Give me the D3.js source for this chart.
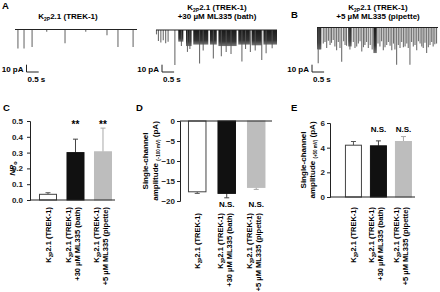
<!DOCTYPE html>
<html>
<head>
<meta charset="utf-8">
<script src="https://cdn.jsdelivr.net/npm/d3@7"></script>
<style>
body { margin: 0; background: #fff; }
svg { display: block; font-family: "Liberation Sans", Arial, sans-serif; font-weight: bold; }
</style>
</head>
<body>
<svg id="fig" width="440" height="292"></svg>
<script>
// ---- data ----
var groupLines = [
    [""],
    ["", "+30 \u00b5M ML335 (bath)"],
    ["", "+5 \u00b5M ML335 (pipette)"]
];  // "" = the K2P2.1 (TREK-1) line (drawn with subscript)

var npoMean = [0.036, 0.30, 0.305];
var npoErr = [0.010, 0.085, 0.15];
var npoSig = ["", "**", "**"];
var npoTicks = [0, 0.1, 0.2, 0.3, 0.4, 0.5];

var ampNegMean = [-17.7, -18.1, -16.6];
var ampNegErr = [0.4, 1.1, 0.5];
var ampNegSig = ["", "N.S.", "N.S."];
var ampNegTicks = [0, -5, -10, -15, -20];

var ampPosMean = [4.2, 4.15, 4.5];
var ampPosErr = [0.3, 0.4, 0.4];
var ampPosSig = ["", "N.S.", "N.S."];
var ampPosTicks = [0, 2, 4, 6];

// single channel traces: spikes [time s, amplitude pA], bursts [t0, t1, amplitude pA]
var ctrlSpikes = [[0.12, 26], [0.37, 26], [0.70, 24], [1.3, 3], [2.05, 19], [2.9, 3], [3.77, 8], [4.22, 24], [4.84, 24]];
var ctrlBursts = [];

var bathSpikes = [[0.02, 6], [0.1, 15], [0.2, 17], [0.3, 14], [0.4, 18], [0.5, 16], [0.78, 48], [1.05, 22],
    [1.3, 30], [1.4, 26], [1.8, 46], [1.95, 28], [2.37, 39], [2.7, 36], [2.9, 30], [3.1, 33],
    [3.55, 43], [3.7, 26], [3.9, 30], [4.1, 28], [4.37, 41], [4.55, 32], [4.8, 25]];
var bathBursts = [[0.92, 1.13, 16], [1.24, 1.47, 22], [1.54, 2.16, 20], [2.23, 2.51, 20],
    [2.58, 3.33, 22], [3.40, 3.88, 20], [3.95, 4.37, 21], [4.44, 5.0, 20]];

var pipSpikes = [[0.05, 49], [0.12, 30], [0.26, 22], [0.33, 20], [0.4, 28], [0.47, 18], [0.54, 24], [0.6, 21],
    [0.67, 17], [0.74, 26], [0.81, 31], [0.88, 20], [0.95, 28], [1.02, 47], [1.1, 19], [1.16, 24],
    [1.22, 25], [1.36, 30], [1.5, 20], [1.57, 28], [1.64, 26], [1.71, 22], [1.78, 19], [1.85, 33],
    [1.92, 27], [1.98, 24], [2.05, 20], [2.12, 28], [2.2, 24], [2.28, 30], [2.52, 22], [2.6, 26],
    [2.67, 19], [2.74, 31], [2.81, 27], [2.88, 24], [2.95, 20], [3.02, 25], [3.09, 31], [3.16, 22],
    [3.22, 30], [3.29, 51], [3.36, 24], [3.43, 28], [3.5, 20], [3.57, 27], [3.64, 26], [3.71, 22],
    [3.77, 28], [3.84, 51], [3.91, 20], [3.98, 26], [4.05, 24], [4.12, 31], [4.19, 19], [4.26, 22],
    [4.33, 26], [4.39, 28], [4.46, 21], [4.53, 35], [4.6, 27], [4.67, 24], [4.74, 20], [4.8, 26],
    [4.87, 23], [4.94, 22]];
var pipBursts = [[0.0, 0.18, 30], [1.29, 1.43, 26], [2.33, 2.47, 35]];

var svg = d3.select("#fig");
var barColors = ["#ffffff", "#111111", "#bdbdbd"];
var barStrokes = ["#444444", "#111111", "#bdbdbd"];
var errColors = ["#555555", "#444444", "#a8a8a8"];

var defs = svg.append("defs");
var grad = defs.append("linearGradient").attr("id", "burstFill")
    .attr("x1", 0).attr("y1", 0).attr("x2", 0).attr("y2", 1);
grad.append("stop").attr("offset", "0%").attr("stop-color", "#1a1a1a");
grad.append("stop").attr("offset", "70%").attr("stop-color", "#333");
grad.append("stop").attr("offset", "100%").attr("stop-color", "#777");

// K2P2.1 (TREK-1) with subscript
function k2pText(sel, size) {
    sel.append("tspan").text("K");
    sel.append("tspan").attr("font-size", size * 0.62).attr("dy", size * 0.25).text("2P");
    sel.append("tspan").attr("dy", -size * 0.25).text("2.1 (TREK-1)");
}

function panelLetter(x, y, s) {
    svg.append("text").attr("x", x).attr("y", y).attr("font-size", 9.5).text(s);
}

panelLetter(2, 9, "A");
panelLetter(291, 18, "B");
panelLetter(3, 111, "C");
panelLetter(136, 111, "D");
panelLetter(291, 111, "E");

function drawTrace(cfg) {
    var x = d3.scaleLinear().domain([0, 5]).range([cfg.x0, cfg.x1]);
    var y = d3.scaleLinear().domain([0, -10]).range([cfg.base, cfg.base + 7.3]);
    var g = svg.append("g");

    g.selectAll(".burst").data(cfg.bursts).enter().append("rect")
        .attr("x", d => x(d[0]))
        .attr("width", d => x(d[1]) - x(d[0]))
        .attr("y", cfg.base)
        .attr("height", d => y(-d[2]) - cfg.base)
        .attr("fill", "url(#burstFill)");

    g.selectAll(".spike").data(cfg.spikes).enter().append("line")
        .attr("x1", d => x(d[0])).attr("x2", d => x(d[0]))
        .attr("y1", cfg.base)
        .attr("y2", d => y(-d[1]))
        .attr("stroke", "#555")
        .attr("stroke-opacity", 0.85)
        .attr("stroke-width", 1.1);

    g.append("line")
        .attr("x1", cfg.x0).attr("x2", cfg.x1)
        .attr("y1", cfg.base).attr("y2", cfg.base)
        .attr("stroke", "#222").attr("stroke-width", 1.2);

    // scale bar 10 pA / 0.5 s
    var sb = svg.append("g").attr("transform", "translate(" + cfg.sbx + "," + cfg.sby + ")");
    var w = x(0.5) - x(0), h = y(-10) - y(0);
    sb.append("path").attr("d", "M0," + (-h) + "V0H" + w)
        .attr("fill", "none").attr("stroke", "#222").attr("stroke-width", 1);
    sb.append("text").attr("x", -3).attr("y", 0).attr("text-anchor", "end")
        .attr("font-size", 8).text("10 pA");
    sb.append("text").attr("x", 1).attr("y", 9.5).attr("font-size", 8).text("0.5 s");

    // title
    var t1 = svg.append("text").attr("x", cfg.tx).attr("y", cfg.ty)
        .attr("text-anchor", "middle").attr("font-size", 8);
    k2pText(t1, 8);
    if (cfg.title2) {
        svg.append("text").attr("x", cfg.tx).attr("y", cfg.ty + 9)
            .attr("text-anchor", "middle").attr("font-size", 8).text(cfg.title2);
    }
}

drawTrace({x0: 15, x1: 137, base: 29.5, spikes: ctrlSpikes, bursts: ctrlBursts,
    sbx: 26.5, sby: 72, tx: 68, ty: 19});
drawTrace({x0: 156, x1: 277, base: 30, spikes: bathSpikes, bursts: bathBursts,
    sbx: 162, sby: 72, tx: 217, ty: 9.5, title2: "+30 \u00b5M ML335 (bath)"});
drawTrace({x0: 317, x1: 438, base: 27.5, spikes: pipSpikes, bursts: pipBursts,
    sbx: 312, sby: 72, tx: 378, ty: 9.5, title2: "+5 \u00b5M ML335 (pipette)"});

function drawBars(cfg) {
    var x = d3.scaleBand().domain([0, 1, 2]).range(cfg.xr)
        .paddingInner(cfg.pi).paddingOuter(cfg.po).align(cfg.align);
    var y = d3.scaleLinear().domain(cfg.yd).range(cfg.yr);
    var g = svg.append("g");
    var zeroY = y(0);

    // error bars first so bars cover the lower half
    g.selectAll(".err").data(cfg.mean).enter().append("path")
        .attr("d", (d, i) => {
            var cx = x(i) + x.bandwidth() / 2;
            var e = d < 0 ? d - cfg.err[i] : d + cfg.err[i];
            return "M" + cx + "," + y(d) + "V" + y(e) + "M" + (cx - 2.5) + "," + y(e) + "H" + (cx + 2.5);
        })
        .attr("fill", "none")
        .attr("stroke", (d, i) => errColors[i])
        .attr("stroke-width", 1);

    g.selectAll(".bar").data(cfg.mean).enter().append("rect")
        .attr("x", (d, i) => x(i) + 0.5)
        .attr("width", x.bandwidth() - 1)
        .attr("y", d => Math.min(y(d), zeroY))
        .attr("height", d => Math.abs(y(d) - zeroY))
        .attr("fill", (d, i) => barColors[i])
        .attr("stroke", (d, i) => barStrokes[i])
        .attr("stroke-width", 1);

    var axis = d3.axisLeft(y).tickValues(cfg.ticks).tickSize(3).tickPadding(cfg.tickPad)
        .tickFormat(cfg.fmt);
    var ax = g.append("g").attr("transform", "translate(" + cfg.xr[0] + ",0)").call(axis);
    ax.select(".domain").attr("stroke", "#222");
    ax.selectAll(".tick line").attr("stroke", "#222");
    ax.selectAll(".tick text").attr("font-size", 8).attr("font-family", null).attr("fill", "#222");

    g.append("line").attr("x1", cfg.xr[0]).attr("x2", cfg.xr[1])
        .attr("y1", zeroY).attr("y2", zeroY).attr("stroke", "#222");

    // significance marks
    g.selectAll(".sig").data(cfg.sig).enter().append("text")
        .attr("x", (d, i) => x(i) + x.bandwidth() / 2)
        .attr("y", (d, i) => cfg.sigY)
        .attr("text-anchor", "middle")
        .attr("font-size", cfg.sigSize)
        .text(d => d);

    // rotated category labels
    groupLines.forEach(function(lines, i) {
        var cx = x(i) + x.bandwidth() / 2;
        lines.forEach(function(line, j) {
            var off = lines.length === 1 ? 0 : (j === 0 ? -7 : 2);
            var t = g.append("text")
                .attr("transform", "translate(" + (cx + off + 3) + "," + cfg.labY + ") rotate(-90)")
                .attr("text-anchor", "end")
                .attr("font-size", 7.5);
            if (line === "") k2pText(t, 7.5); else t.text(line);
        });
    });

    // y title
    cfg.ylab(g, (cfg.yr[0] + cfg.yr[1]) / 2);
}

drawBars({
    xr: [30, 115], pi: 0.345, po: 0.218, align: 0.75,
    yd: [0, 0.5], yr: [200, 121], ticks: npoTicks, fmt: d3.format(".1f"), tickPad: 4,
    mean: npoMean, err: npoErr, sig: npoSig, sigY: 128, sigSize: 10, labY: 207,
    ylab: function(g, cy) {
        var t = g.append("text").attr("transform", "translate(15," + (cy + 8) + ") rotate(-90)")
            .attr("text-anchor", "middle").attr("font-size", 8);
        t.append("tspan").attr("font-style", "italic").text("NP");
        t.append("tspan").attr("font-size", 5.5).attr("dy", 2).text("o");
    }
});

function ampLabel(sub, off1, off2) {
    return function(g, cy) {
        var xl = this.xr[0];
        g.append("text").attr("transform", "translate(" + (xl + off1) + "," + cy + ") rotate(-90)")
            .attr("text-anchor", "middle").attr("font-size", 8).text("Single-channel");
        var t2 = g.append("text").attr("transform", "translate(" + (xl + off2) + "," + cy + ") rotate(-90)")
            .attr("text-anchor", "middle").attr("font-size", 8);
        t2.append("tspan").text("amplitude ");
        t2.append("tspan").attr("font-size", 4.5).attr("dy", 1.5).text(sub);
        t2.append("tspan").attr("dy", -1.5).text(" (pA)");
    };
}

drawBars({
    xr: [180, 272], pi: 0.373, po: 0.246, align: 0.55,
    yd: [0, -20], yr: [121, 201], ticks: ampNegTicks, fmt: d3.format("d"), tickPad: 2,
    mean: ampNegMean, err: ampNegErr, sig: ampNegSig, sigY: 207, sigSize: 8, labY: 213,
    ylab: ampLabel("(\u2212100 mV)", -32, -22)
});

drawBars({
    xr: [330, 415], pi: 0.32, po: 0.36, align: 0.83,
    yd: [0, 6], yr: [197, 123], ticks: ampPosTicks, fmt: d3.format("d"), tickPad: 2,
    mean: ampPosMean, err: ampPosErr, sig: ampPosSig, sigY: 132, sigSize: 8, labY: 207,
    ylab: ampLabel("(+50 mV)", -24, -15)
});
</script>
</body>
</html>
